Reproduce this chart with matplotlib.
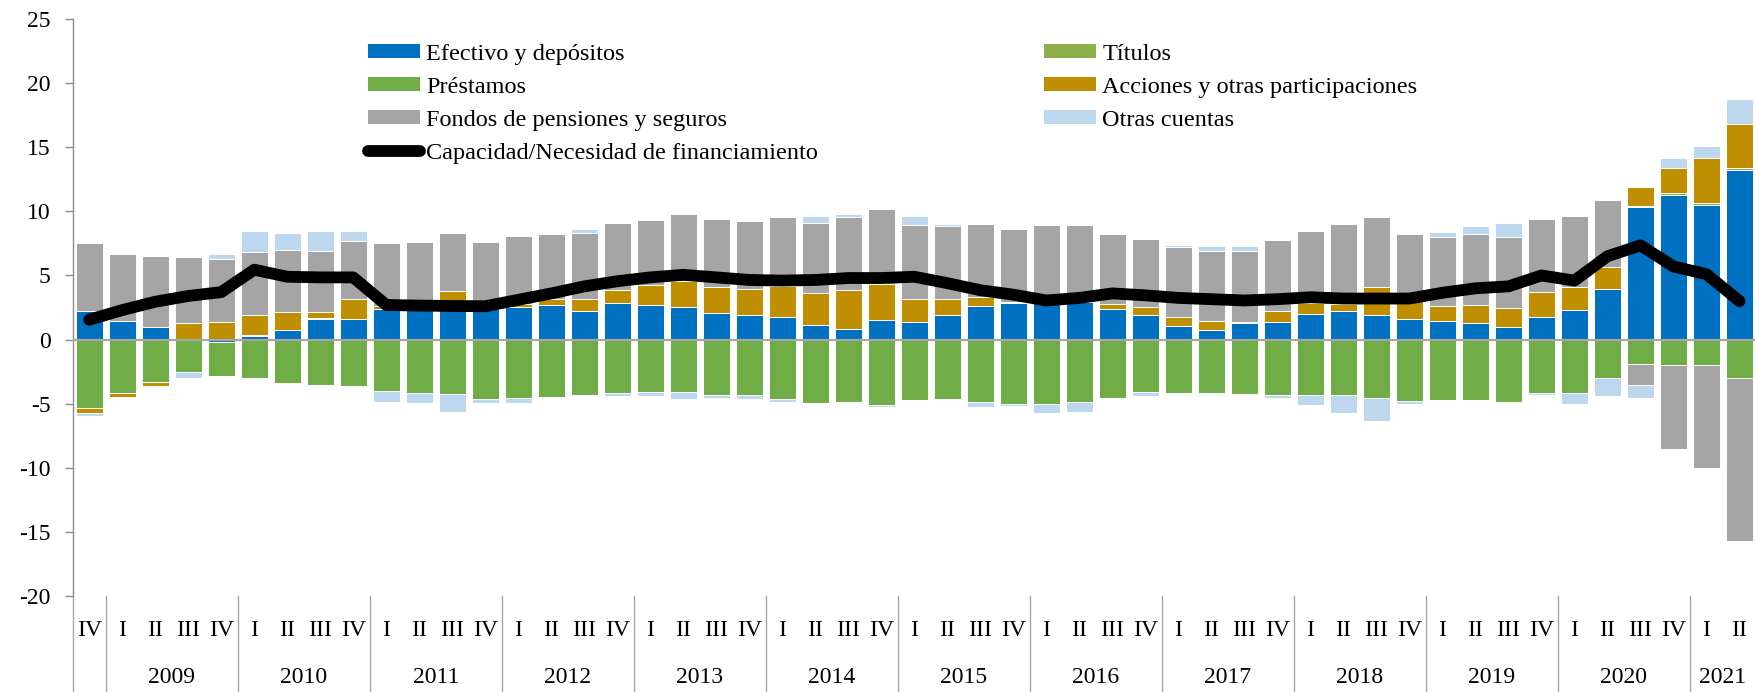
import numpy as np
import matplotlib
matplotlib.use("Agg")
import matplotlib.pyplot as plt
from matplotlib.patches import Patch
from matplotlib.lines import Line2D
from matplotlib.transforms import blended_transform_factory

plt.rcParams['font.family'] = ['Liberation Serif', 'DejaVu Serif']
plt.rcParams['axes.unicode_minus'] = False

# ---------------- data ----------------
quarters = ["IV"] + ["I", "II", "III", "IV"] * 12 + ["I", "II"]
years = ["2009", "2010", "2011", "2012", "2013", "2014", "2015", "2016",
         "2017", "2018", "2019", "2020", "2021"]

efectivo = [2.20, 1.42, 0.95, 0.00, -0.15, 0.28, 0.72, 1.63, 1.63, 2.40,
            2.35, 2.95, 2.40, 2.55, 2.72, 2.23, 2.82, 2.72, 2.56, 2.10,
            1.90, 1.79, 1.11, 0.80, 1.53, 1.40, 1.94, 2.59, 2.82, 2.85,
            2.93, 2.41, 1.94, 1.04, 0.78, 1.27, 1.37, 1.97, 2.23, 1.92,
            1.58, 1.45, 1.27, 0.96, 1.74, 2.28, 3.91, 10.36, 11.29, 10.51,
            13.24]
titulos = [0.05, 0.00, 0.05, 0.00, 0.00, 0.05, 0.00, 0.03, 0.00, 0.00,
           0.00, 0.00, 0.00, 0.00, 0.00, 0.00, 0.03, 0.00, 0.00, 0.00,
           0.00, 0.00, 0.00, 0.00, 0.03, 0.00, 0.00, 0.00, 0.00, 0.00,
           0.00, 0.00, 0.00, 0.00, 0.00, 0.00, 0.00, 0.00, 0.00, 0.00,
           0.00, 0.00, 0.00, 0.00, 0.00, 0.00, 0.05, 0.08, 0.13, 0.13,
           0.18]
prestamos = [-5.30, -4.20, -3.30, -2.50, -2.70, -3.00, -3.40, -3.55, -3.60, -4.00,
             -4.20, -4.25, -4.60, -4.57, -4.47, -4.34, -4.20, -4.08, -4.05, -4.30,
             -4.35, -4.60, -4.95, -4.85, -5.13, -4.75, -4.65, -4.85, -5.00, -5.05,
             -4.85, -4.53, -4.07, -4.15, -4.18, -4.26, -4.34, -4.29, -4.36, -4.55,
             -4.78, -4.68, -4.75, -4.86, -4.20, -4.20, -3.00, -1.87, -1.95, -1.97,
             -2.99]
acciones = [-0.45, -0.30, -0.30, 1.27, 1.37, 1.57, 1.43, 0.49, 1.50, 0.25,
            0.75, 0.85, 0.20, 0.25, 0.48, 0.92, 1.04, 1.50, 1.97, 1.97,
            2.01, 2.36, 2.49, 3.06, 2.77, 1.73, 1.19, 0.71, 0.13, 0.05,
            0.00, 0.34, 0.57, 0.72, 0.64, 0.10, 0.83, 0.88, 0.57, 2.15,
            1.40, 1.15, 1.40, 1.48, 1.99, 1.84, 1.71, 1.48, 2.00, 3.56,
            3.43]
fondos = [5.25, 5.26, 5.50, 5.18, 4.88, 4.90, 4.85, 4.78, 4.57, 4.85,
          4.50, 4.50, 5.00, 5.30, 5.00, 5.15, 5.21, 5.11, 5.24, 5.31,
          5.34, 5.38, 5.52, 5.67, 5.83, 5.83, 5.76, 5.74, 5.65, 6.04,
          5.98, 5.46, 5.37, 5.44, 5.52, 5.50, 5.57, 5.60, 6.20, 5.46,
          5.28, 5.43, 5.57, 5.59, 5.65, 5.52, 5.21, -1.70, -6.57, -8.03,
          -12.75]
otras = [-0.20, 0.00, -0.08, -0.50, 0.45, 1.70, 1.30, 1.50, 0.75, -0.85,
         -0.75, -1.40, -0.35, -0.40, 0.00, 0.30, -0.20, -0.35, -0.62, -0.25,
         -0.25, -0.30, 0.48, 0.24, -0.12, 0.68, 0.11, -0.42, -0.15, -0.70,
         -0.80, -0.05, -0.33, 0.18, 0.39, 0.46, -0.23, -0.80, -1.38, -1.77,
         -0.23, 0.37, 0.62, 1.06, -0.13, -0.80, -1.37, -0.96, 0.75, 0.93,
         1.95]
capacidad = [1.55, 2.30, 2.95, 3.40, 3.70, 5.45, 4.90, 4.85, 4.85, 2.70,
             2.65, 2.62, 2.60, 3.10, 3.60, 4.15, 4.55, 4.85, 5.05, 4.85,
             4.65, 4.60, 4.65, 4.80, 4.80, 4.90, 4.40, 3.85, 3.50, 3.05,
             3.25, 3.60, 3.45, 3.25, 3.15, 3.05, 3.15, 3.30, 3.20, 3.20,
             3.20, 3.65, 4.00, 4.15, 5.00, 4.60, 6.50, 7.35, 5.70, 5.10,
             3.00]

series = [
    ("Efectivo y depósitos", efectivo, "#0070C0"),
    ("Títulos", titulos, "#8DB04A"),
    ("Préstamos", prestamos, "#70AD47"),
    ("Acciones y otras participaciones", acciones, "#BF8F00"),
    ("Fondos de pensiones y seguros", fondos, "#A5A5A5"),
    ("Otras cuentas", otras, "#BDD7EE"),
]
line_label = "Capacidad/Necesidad de financiamiento"

# ---------------- figure ----------------
fig = plt.figure(figsize=(17.56, 6.92), dpi=100)
ax = fig.add_axes([0.0414, 0.1387, 0.9586, 0.8338])

x = np.arange(len(quarters))
pos_base = np.zeros(len(x))
neg_base = np.zeros(len(x))
handles = {}
for name, vals, col in series:
    v = np.array(vals, dtype=float)
    pos = np.where(v > 0, v, 0)
    neg = np.where(v < 0, v, 0)
    ax.bar(x, pos, bottom=pos_base, width=0.82, color=col,
           edgecolor="white", linewidth=0.7, zorder=2)
    ax.bar(x, neg, bottom=neg_base, width=0.82, color=col,
           edgecolor="white", linewidth=0.7, zorder=2)
    pos_base += pos
    neg_base += neg
    handles[name] = Patch(facecolor=col, edgecolor="none", label=name)

ax.plot(x, capacidad, color="black", lw=8.5, solid_capstyle="round",
        solid_joinstyle="round", zorder=4)
handles[line_label] = Line2D([0], [0], color="black", lw=8.5,
                             solid_capstyle="round", label=line_label)

ax.axhline(0, color="#A6A6A6", lw=1.6, zorder=3)

ax.set_xlim(-0.5, len(x) - 0.5)
ax.set_ylim(-20, 25)
ax.set_yticks(np.arange(-20, 26, 5))
ax.tick_params(axis="y", direction="out", length=6, width=1, color="#8C8C8C",
               labelsize=17, pad=10)
ax.set_xticks([])
for s in ["top", "right", "bottom"]:
    ax.spines[s].set_visible(False)
ax.spines["left"].set_color("#8C8C8C")
ax.spines["left"].set_linewidth(1)

# category axis (quarters + years)
tr = blended_transform_factory(ax.transData, fig.transFigure)
for xi, q in zip(x, quarters):
    ax.text(xi, 0.081, q, transform=tr, ha="center", va="baseline",
            fontsize=17, clip_on=False)
starts = [1 + 4 * i for i in range(12)] + [49]
lengths = [4] * 12 + [2]
for yr, s0, ln in zip(years, starts, lengths):
    ax.text(s0 + (ln - 1) / 2, 0.0135, yr, transform=tr, ha="center",
            va="baseline", fontsize=17, clip_on=False)
seps = [-0.5, 0.5] + [s0 + ln - 0.5 for s0, ln in zip(starts, lengths)]
for sx in seps:
    ax.add_line(Line2D([sx, sx], [0.0, 0.1387], transform=tr,
                       color="#A6A6A6", lw=1, clip_on=False))

# legend (two columns)
col1 = ["Efectivo y depósitos", "Préstamos", "Fondos de pensiones y seguros", line_label]
col2 = ["Títulos", "Acciones y otras participaciones", "Otras cuentas"]
kw = dict(loc="upper left", frameon=False, fontsize=17.5, borderpad=0,
          borderaxespad=0, handlelength=2.15, handleheight=0.5,
          handletextpad=0.25, labelspacing=0.5,
          bbox_transform=fig.transFigure)
leg1 = ax.legend(handles=[handles[n] for n in col1], bbox_to_anchor=(0.2096, 0.937), **kw)
ax.add_artist(leg1)
leg2 = ax.legend(handles=[handles[n] for n in col2], bbox_to_anchor=(0.5945, 0.937), **kw)

fig.savefig("out.png", dpi=100)
